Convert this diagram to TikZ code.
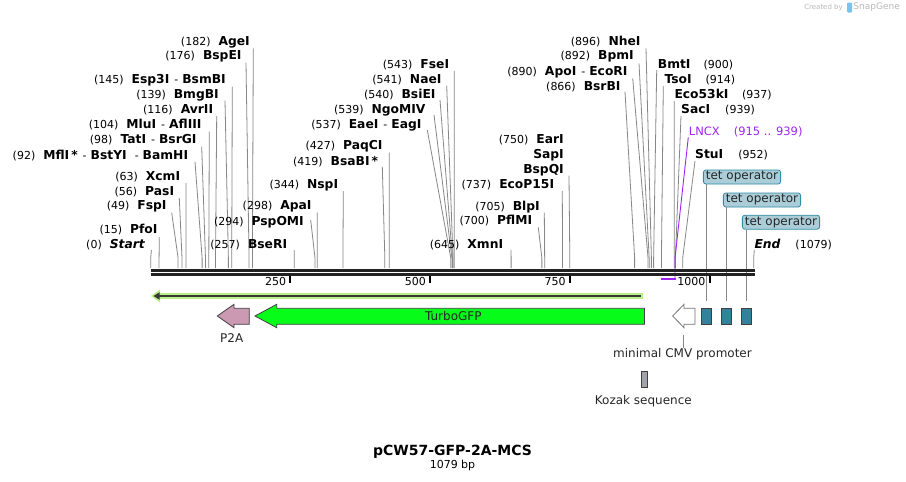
\documentclass[tikz,border=0pt]{standalone}
\usepackage{fontspec}
\setmainfont{DejaVu Sans}
\usetikzlibrary{calc}
\definecolor{linegray}{RGB}{135,135,135}
\definecolor{bbcol}{RGB}{34,34,34}
\definecolor{gfpgreen}{RGB}{8,252,26}
\definecolor{p2apink}{RGB}{204,153,178}
\definecolor{tetfill}{RGB}{49,131,155}
\definecolor{tetlabfill}{RGB}{170,205,215}
\definecolor{tetlabdraw}{RGB}{50,140,165}
\definecolor{lightgr}{RGB}{186,240,134}
\definecolor{purp}{RGB}{160,36,240}
\definecolor{kozak}{RGB}{160,164,170}
\definecolor{logogray}{RGB}{185,185,185}
\definecolor{logoblue}{RGB}{120,195,240}
\newcommand\nm[1]{{\fontsize{12.3}{14}\selectfont\bfseries #1}}
\newcommand\gp{\hspace{8pt}}
\newcommand\sepr{\hspace{5pt}-\hspace{4pt}}
\newcommand\siteL[7]{%
  \node[lab,anchor=east] (#1) at (#2,#3) {#7};
  \coordinate (#1-t) at (#4,#5);
  \coordinate (#1-k) at ({150.7+0.5588*#6},258);
  \coordinate (#1-b) at ({150.7+0.5588*#6},268);
  \draw[cl] (#1-t) -- (#1-k) -- (#1-b);
}
\newcommand\siteR[7]{%
  \node[lab,anchor=west] (#1) at (#2,#3) {#7};
  \coordinate (#1-t) at (#4,#5);
  \coordinate (#1-k) at ({150.7+0.5588*#6},258);
  \coordinate (#1-b) at ({150.7+0.5588*#6},268);
  \draw[cl] (#1-t) -- (#1-k) -- (#1-b);
}
\tikzset{
  lab/.style={inner sep=0pt, font=\fontsize{11}{13}\selectfont, text=black},
  cl/.style={draw=linegray, line width=0.8pt},
  featlab/.style={inner sep=0pt, font=\fontsize{12}{14}\selectfont, text=black!85},
  tetlab/.style={draw=tetlabdraw, fill=tetlabfill, rounded corners=2.5pt, line width=0.8pt,
    inner xsep=2.5pt, inner ysep=0pt, minimum height=14pt, font=\fontsize{12}{14}\selectfont, text=black!85},
  tetbox/.style={draw=black!75, fill=tetfill, line width=0.8pt, minimum width=10pt, minimum height=16pt, inner sep=0pt},
  ticklab/.style={inner sep=0pt, font=\fontsize{11}{13}\selectfont, anchor=east},
  bbline/.style={draw=bbcol, line width=3pt},
}
\begin{document}
\begin{tikzpicture}[x=1pt,y=-1pt]
\useasboundingbox (0,0) rectangle (906,482);
\fill[white] (0,0) rectangle (906,482);

% ---- left-side sites
\siteL{start}{145}{244.3}{151.4}{250}{0}{(0)\gp\nm{\itshape Start}}
\siteL{pfoi}{157.7}{230}{159.3}{237}{15}{(15)\gp\nm{PfoI}}
\siteL{fspi}{166.7}{206}{171.7}{212.7}{49}{(49)\gp\nm{FspI}}
\siteL{pasi}{174.3}{191.7}{179.3}{198}{56}{(56)\gp\nm{PasI}}
\siteL{xcmi}{180.3}{176.7}{186}{183}{63}{(63)\gp\nm{XcmI}}
\siteL{mfli}{188.3}{155.7}{195}{161.7}{92}{(92)\gp\nm{MflI\,*}\sepr\nm{BstYI}\hspace{3pt}\sepr\nm{BamHI}}
\siteL{tati}{196.7}{140}{201.7}{146.7}{98}{(98)\gp\nm{TatI}\sepr\nm{BsrGI}}
\siteL{mlui}{201.7}{125}{209.3}{131.7}{104}{(104)\gp\nm{MluI}\sepr\nm{AflIII}}
\siteL{avrii}{213.3}{110}{216.7}{116}{116}{(116)\gp\nm{AvrII}}
\siteL{bmgbi}{219}{95}{225}{100.7}{139}{(139)\gp\nm{BmgBI}}
\siteL{espi}{226}{80.7}{232.3}{86.7}{145}{(145)\gp\nm{Esp3I}\sepr\nm{BsmBI}}
\siteL{bspei}{241.7}{56.7}{246}{62.7}{176}{(176)\gp\nm{BspEI}}
\siteL{agei}{250}{42.7}{253.3}{48.3}{182}{(182)\gp\nm{AgeI}}
\siteL{bseri}{287.3}{244.3}{294.3}{250}{257}{(257)\gp\nm{BseRI}}
\siteL{pspomi}{304}{222.7}{310.7}{220}{294}{(294)\gp\nm{PspOMI}}
\siteL{apai}{311.7}{206.7}{317.3}{212.7}{298}{(298)\gp\nm{ApaI}}
\siteL{nspi}{338.3}{185}{343.3}{191}{344}{(344)\gp\nm{NspI}}
\siteL{bsabi}{378.3}{161.7}{382.3}{166.7}{419}{(419)\gp\nm{BsaBI\,*}}
\siteL{paqci}{382.7}{146.7}{389.3}{152.7}{427}{(427)\gp\nm{PaqCI}}
\siteL{eaei}{421.7}{125}{427.3}{130}{537}{(537)\gp\nm{EaeI}\sepr\nm{EagI}}
\siteL{ngomiv}{425.7}{110}{434}{115}{539}{(539)\gp\nm{NgoMIV}}
\siteL{bsiei}{435.7}{95}{440}{100}{540}{(540)\gp\nm{BsiEI}}
\siteL{naei}{441.7}{80}{446.7}{85.7}{541}{(541)\gp\nm{NaeI}}
\siteL{fsei}{449.3}{65}{454.3}{71}{543}{(543)\gp\nm{FseI}}
\siteL{xmni}{503.3}{244.3}{511}{250}{645}{(645)\gp\nm{XmnI}}
\siteL{pflmi}{532.3}{221}{538.3}{227.3}{700}{(700)\gp\nm{PflMI}}
\siteL{blpi}{540}{206.7}{544.3}{212.7}{705}{(705)\gp\nm{BlpI}}
\siteL{ecop}{554.3}{185}{562.3}{191}{737}{(737)\gp\nm{EcoP15I}}
\siteL{bspqi}{564}{170}{569}{175.7}{750}{\nm{BspQI}}
\node[lab,anchor=east] (sapi) at (564,155) {\nm{SapI}};
\node[lab,anchor=east] (eari) at (564,139.3) {(750)\gp\nm{EarI}};
\siteL{bsrbi}{620.7}{86.7}{625}{91.7}{866}{(866)\gp\nm{BsrBI}}
\siteL{apoi}{627.7}{72.3}{632.7}{78.3}{890}{(890)\gp\nm{ApoI}\sepr\nm{EcoRI}}
\siteL{bpmi}{634}{56.7}{639}{63.3}{892}{(892)\gp\nm{BpmI}}
\siteL{nhei}{640.7}{41.7}{646}{48.3}{896}{(896)\gp\nm{NheI}}

% ---- right-side sites
\siteR{bmti}{657.7}{64.3}{656.7}{70}{900}{\nm{BmtI}\hspace{13pt}(900)}
\siteR{tsoi}{664.3}{80}{663.3}{86}{914}{\nm{TsoI}\hspace{14pt}(914)}
\siteR{ecok}{674.3}{95}{674.3}{101}{937}{\nm{Eco53kI}\hspace{13.5pt}(937)}
\siteR{saci}{681}{110}{681}{116}{939}{\nm{SacI}\hspace{15pt}(939)}
\siteR{stui}{695}{155}{695}{161}{952}{\nm{StuI}\hspace{15pt}(952)}
\siteR{endl}{754.3}{244.3}{754.3}{250}{1079}{\nm{\itshape End}\hspace{15pt}(1079)}

% LNCX feature
\node[lab,anchor=west,text=purp,font=\fontsize{11.5}{13}\selectfont] (lncx) at (688.7,131.7) {LNCX\hspace{14pt}(915 .. 939)};
\coordinate (lncx-t) at (688.3,137.3);
\coordinate (lncx-k) at (675,258);
\coordinate (lncx-b) at (675,278.5);
\coordinate (lncx-s) at (661,278.5);
\draw[draw=purp, line width=0.9pt] (lncx-t) -- (lncx-k) -- (lncx-b);
\draw[draw=purp, line width=2pt] (lncx-s) -- ([xshift=0.5pt]lncx-b);

% tet operator features
\node[tetbox] (tb1) at (706.7,316.3) {};
\node[tetbox] (tb2) at (726.7,316.3) {};
\node[tetbox] (tb3) at (746.2,316.3) {};
\node[tetlab] (tet1) at (742,177) {tet operator};
\node[tetlab] (tet2) at (762,200) {tet operator};
\node[tetlab] (tet3) at (781,222.2) {tet operator};
\draw[cl] (tet1.south -| tb1) -- ([yshift=6.6pt]tb1.north);
\draw[cl] (tet2.south -| tb2) -- ([yshift=6.6pt]tb2.north);
\draw[cl] (tet3.south -| tb3) -- ([yshift=6.6pt]tb3.north);

% backbone
\draw[bbline] (150.5,270) -- (755,270);
\draw[bbline] (150.5,274.2) -- (755,274.2);
\foreach \v/\t in {250/250,500/500,750/750,1000/1000}{
  \draw[draw=black, line width=2pt] ({150.7+0.5588*\v},275.5) -- ({150.7+0.5588*\v},283);
  \node[ticklab] (tick\t) at ({150.7+0.5588*\v-4},281.8) {\t};
}

% thin green feature line
\draw[draw=lightgr, line width=6.5pt] (643,296) -- (158,296);
\fill[lightgr] (151,296) -- (160,289.5) -- (160,302.5) -- cycle;
\draw[draw=bbcol!90, line width=2.3pt] (641,296) -- (157,296);
\fill[bbcol!90] (153.5,296) -- (159.5,292.3) -- (159.5,299.7) -- cycle;

% TurboGFP
\draw[fill=gfpgreen, draw=black!75, line width=0.8pt]
  (255,316) -- (276.7,304.3) -- (276.7,308.3) -- (644.5,308.3) -- (644.5,324.3)
  -- (276.7,324.3) -- (276.7,327.7) -- cycle;
\node[featlab] (gfp) at (453.3,316) {TurboGFP};
% P2A
\draw[fill=p2apink, draw=black!75, line width=0.8pt]
  (217.3,316) -- (234,304.3) -- (234,308.3) -- (249.3,308.3) -- (249.3,324.3)
  -- (234,324.3) -- (234,327.7) -- cycle;
\node[featlab] (p2a) at (231.7,337.8) {P2A};
% minimal CMV promoter
\draw[fill=white, draw=black!55, line width=0.8pt]
  (672.7,316) -- (684,304.3) -- (684,308.3) -- (695,308.3) -- (695,324.3)
  -- (684,324.3) -- (684,327.7) -- cycle;
\node[featlab] (cmv) at (682.5,354) {minimal CMV promoter};
\coordinate (cmv-t) at (683.3,335);
\draw[cl] (cmv-t) -- (cmv-t |- cmv.north) ;
% Kozak
\node[draw=black!75, fill=kozak, line width=0.8pt, minimum width=5.6pt, minimum height=15.6pt, inner sep=0pt] (koz) at (644.5,379.5) {};
\node[featlab] (kozl) at (643.3,401) {Kozak sequence};

% title
\node[inner sep=0pt, font=\fontsize{14}{16}\selectfont\bfseries] (title) at (452.5,451.5) {pCW57-GFP-2A-MCS};
\node[inner sep=0pt, font=\fontsize{11}{13}\selectfont] (bp) at (452.5,465.5) {1079 bp};

% created by
\node[inner sep=0pt, anchor=east, text=logogray, font=\fontsize{7}{9}\selectfont] (cby) at (843,7.5) {Created by};
\fill[logoblue, rounded corners=1pt] (847,2.5) rectangle (852,12.5);
\node[inner sep=0pt, anchor=east, text=logogray, font=\fontsize{9}{11}\selectfont] (sg) at (900,7.5) {SnapGene};
\end{tikzpicture}
\end{document}
